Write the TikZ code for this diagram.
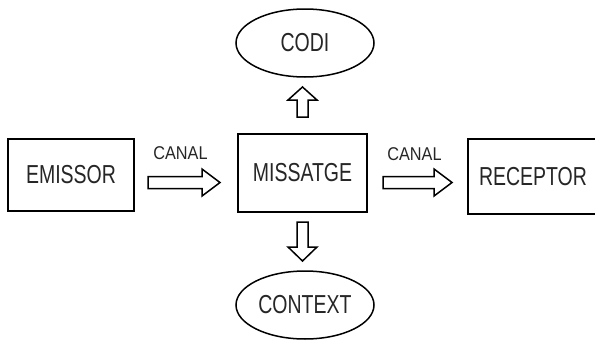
\documentclass[tikz,border=0pt]{standalone}
\usepackage{fontspec}
\setmainfont{Liberation Sans}
\usetikzlibrary{shapes.geometric,calc}
\newcommand\nar[2]{\scalebox{#1}[1]{#2}}
% block arrow: from, to, head length, shaft half width, head half width
\newcommand\blockarr[5]{%
\draw[blockline] let \p1=(#1), \p2=(#2), \n1={veclen(\x2-\x1,\y2-\y1)},
  \n2={(\x2-\x1)/\n1}, \n3={(\y2-\y1)/\n1} in
  ({\x1-\n3*#4}, {\y1+\n2*#4})
  -- ({\x1+\n2*(\n1-#3)-\n3*#4}, {\y1+\n3*(\n1-#3)+\n2*#4})
  -- ({\x1+\n2*(\n1-#3)-\n3*#5}, {\y1+\n3*(\n1-#3)+\n2*#5})
  -- (\p2)
  -- ({\x1+\n2*(\n1-#3)+\n3*#5}, {\y1+\n3*(\n1-#3)-\n2*#5})
  -- ({\x1+\n2*(\n1-#3)+\n3*#4}, {\y1+\n3*(\n1-#3)-\n2*#4})
  -- ({\x1+\n3*#4}, {\y1-\n2*#4}) -- cycle;}
\tikzset{
  boxnode/.style={draw, line width=1.8pt, inner sep=0pt, font=\fontsize{26}{30}\selectfont, text=black!85},
  ellnode/.style={ellipse, draw, line width=1.5pt, inner sep=0pt, minimum width=138pt, minimum height=68pt, font=\fontsize{26}{30}\selectfont, text=black!85},
  canal/.style={inner sep=0pt, font=\fontsize{18.5}{21}\selectfont, text=black!85},
  blockline/.style={draw, line width=1.5pt, line join=miter, fill=white}
}
\begin{document}
\begin{tikzpicture}[x=1pt,y=-1pt]
\useasboundingbox[fill=white] (0,0) rectangle (595,340);
\node[boxnode, minimum width=126pt, minimum height=72pt] (emissor) at (71,175) {\nar{0.75}{EMISSOR}};
\node[boxnode, minimum width=129pt, minimum height=78pt] (missatge) at (302.5,173) {\nar{0.75}{MISSATGE}};
\node[boxnode, minimum width=130pt, minimum height=75pt] (receptor) at (533,176.5) {\nar{0.75}{RECEPTOR}};
\node[ellnode] (codi) at (305,43) {\nar{0.75}{CODI}};
\node[ellnode] (context) at (305,305) {\nar{0.75}{CONTEXT}};
\node[canal] (canal1) at (180.5,153.5) {\nar{0.88}{CANAL}};
\node[canal] (canal2) at (414.5,154) {\nar{0.88}{CANAL}};
\coordinate (a1s) at (148,182.5);
\coordinate (a1e) at (220,182.5);
\coordinate (a2s) at (383,182.5);
\coordinate (a2e) at (452,182.5);
\coordinate (a3s) at (302.5,117);
\coordinate (a3e) at (302.5,87);
\coordinate (a4s) at (302.5,222);
\coordinate (a4e) at (302.5,261);
\blockarr{a1s}{a1e}{18}{6}{13.5}
\blockarr{a2s}{a2e}{18}{6}{13.5}
\blockarr{a3s}{a3e}{13}{5.5}{14.5}
\blockarr{a4s}{a4e}{14}{5.5}{14.5}
\end{tikzpicture}
\end{document}
